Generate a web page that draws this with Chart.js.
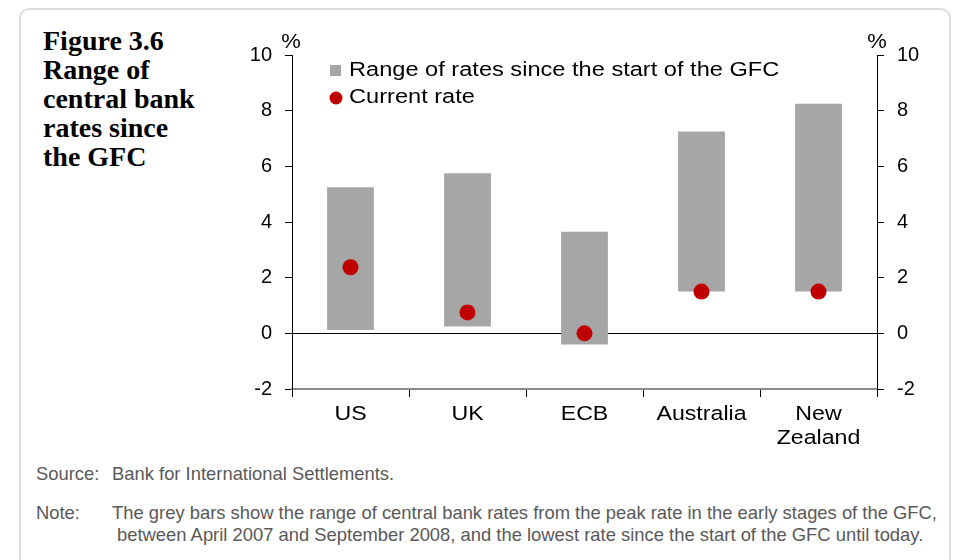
<!DOCTYPE html>
<html>
<head>
<meta charset="utf-8">
<script src="https://cdn.jsdelivr.net/npm/chart.js@4.4.0/dist/chart.umd.min.js"></script>
<style>
  body { margin: 0; background: #fff; width: 959px; height: 560px; overflow: hidden; position: relative; font-family: "Liberation Sans", Arial, sans-serif; }
  #card { position: absolute; left: 19px; top: 8px; width: 932px; height: 600px; border: 2px solid #dcdcdc; border-radius: 10px; box-sizing: border-box; }
  #title { position: absolute; left: 43px; top: 26px; font: bold 28px/29px "Liberation Serif", serif; color: #000; }
  #wrap { position: absolute; left: 200px; top: 30px; width: 740px; height: 420px; }
  .foot { position: absolute; left: 36px; font-size: 18.4px; line-height: 22px; color: #595959; white-space: nowrap; }
  .foot span.lab { display: inline-block; width: 76px; }
  .foot div.ind { padding-left: 81px; }
</style>
</head>
<body>
<div id="card"></div>
<div id="title">Figure 3.6<br>Range of<br>central bank<br>rates since<br>the GFC</div>
<div id="wrap"><canvas id="rateChart"></canvas></div>
<div class="foot" style="top:463px"><span class="lab">Source:</span>Bank for International Settlements.</div>
<div class="foot" style="top:502px"><span class="lab">Note:</span>The grey bars show the range of central bank rates from the peak rate in the early stages of the GFC,<div class="ind">between April 2007 and September 2008, and the lowest rate since the start of the GFC until today.</div></div>

<script>
const categories = ["US", "UK", "ECB", "Australia", ["New", "Zealand"]];
const rangeLow = [0.12, 0.25, -0.4, 1.5, 1.5];
const rangeHigh = [5.25, 5.75, 3.65, 7.25, 8.25];
const currentRate = [2.375, 0.75, 0, 1.5, 1.5];
const yTicks = [-2, 0, 2, 4, 6, 8, 10];

const ctx = document.getElementById("rateChart");

// text a bit wider than the font, like the original
function wideText(c, txt, x, y, sx, align) {
  c.save();
  c.translate(x, y);
  c.scale(sx, 1);
  c.textAlign = align;
  c.fillText(txt, 0, 0);
  c.restore();
}

// legend, % signs and category labels drawn by hand
const extras = {
  id: "extras",
  afterDraw(chart) {
    const c = chart.ctx;
    const xs = chart.scales.x;
    const yl = chart.scales.y;
    const yr = chart.scales.y2;
    c.save();
    c.fillStyle = "#000";
    c.textBaseline = "middle";
    c.font = "20px 'Liberation Sans'";
    wideText(c, "Range of rates since the start of the GFC", 149, 40, 1.18, "left");
    wideText(c, "Current rate", 149, 67, 1.18, "left");
    c.fillStyle = "#a6a6a6";
    c.fillRect(130, 35, 11, 11);
    c.fillStyle = "#c00000";
    c.beginPath();
    c.arc(136, 68, 6.5, 0, Math.PI * 2);
    c.fill();

    c.fillStyle = "#000";
    c.font = "20px 'Liberation Sans'";
    wideText(c, "%", yl.right - 1, 12, 1.1, "center");
    wideText(c, "%", yr.left, 12, 1.1, "center");

    c.font = "20.5px 'Liberation Sans'";
    categories.forEach((lab, i) => {
      const lines = Array.isArray(lab) ? lab : [lab];
      const x = xs.getPixelForValue(i);
      lines.forEach((ln, k) => {
        wideText(c, ln, x, xs.top + 25 + k * 24, 1.13, "center");
      });
    });
    c.restore();
  },
};

new Chart(ctx, {
  data: {
    labels: categories,
    datasets: [
      {
        type: "line",
        label: "Current rate",
        data: currentRate,
        showLine: false,
        pointRadius: 8,
        pointHoverRadius: 8,
        pointBackgroundColor: "#c00000",
        pointBorderWidth: 0,
        order: 1,
        yAxisID: "y",
      },
      {
        type: "bar",
        label: "Range of rates since the start of the GFC",
        data: rangeLow.map((l, i) => [l, rangeHigh[i]]),
        backgroundColor: "#a6a6a6",
        categoryPercentage: 0.5,
        barPercentage: 0.8,
        order: 2,
        yAxisID: "y",
      },
    ],
  },
  options: {
    responsive: true,
    maintainAspectRatio: false,
    animation: false,
    layout: { padding: { top: 25, left: 0, right: 0, bottom: 0 } },
    plugins: { legend: { display: false }, tooltip: { enabled: false } },
    scales: {
      x: {
        type: "category",
        offset: true,
        grid: { offset: true, drawOnChartArea: false, color: "#000", tickColor: "#000", tickLength: 8 },
        border: { color: "#8c8c8c", width: 2 },
        ticks: { color: "rgba(0,0,0,0)", font: { family: "Liberation Sans", size: 20 }, maxRotation: 0, autoSkip: false },
        afterFit(s) { s.height = 61; },
      },
      y: {
        position: "left",
        min: -2,
        max: 10,
        afterBuildTicks(s) { s.ticks = yTicks.map((v) => ({ value: v })); },
        grid: {
          color: (c) => (c.tick && c.tick.value === 0 ? "#000" : "rgba(0,0,0,0)"),
          tickColor: "#000",
          tickLength: 7,
        },
        border: { color: "#000", width: 1 },
        ticks: { color: "#000", font: { family: "Liberation Sans", size: 20 }, padding: 13 },
        afterFit(s) { s.width = 92; },
      },
      y2: {
        position: "right",
        min: -2,
        max: 10,
        afterBuildTicks(s) { s.ticks = yTicks.map((v) => ({ value: v })); },
        grid: { drawOnChartArea: false, color: "#000", tickColor: "#000", tickLength: 7 },
        border: { color: "#000", width: 1 },
        ticks: { color: "#000", font: { family: "Liberation Sans", size: 20 }, padding: 13 },
        afterFit(s) { s.width = 63; },
      },
    },
  },
  plugins: [extras],
});
</script>
</body>
</html>
